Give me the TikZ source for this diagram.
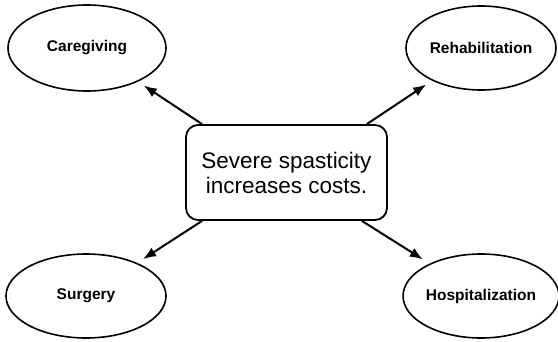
\documentclass[tikz,border=0pt]{standalone}
\usepackage{fontspec}
\setmainfont{Liberation Sans}
\usetikzlibrary{shapes.geometric,arrows.meta}
\begin{document}
\begin{tikzpicture}[x=1pt,y=1pt,
  oval/.style={draw, ellipse, line width=1.6pt, inner sep=0pt, font=\fontsize{15.5}{18}\selectfont\bfseries},
  mainbox/.style={draw, rounded corners=12pt, line width=1.8pt, minimum width=201pt, minimum height=95pt, align=center, font=\fontsize{22.5}{25}\selectfont},
  arr/.style={line width=2pt, -{Latex[length=13pt,width=10pt]}}]
\useasboundingbox (0,0) rectangle (558,341);
\node[mainbox] (box) at (286.5,168.5) {Severe spasticity\\increases costs.};
\node[oval, minimum width=158pt, minimum height=86pt] (care) at (87,293) {Caregiving};
\node[oval, minimum width=150pt, minimum height=84pt] (rehab) at (481,293) {Rehabilitation};
\node[oval, minimum width=160pt, minimum height=84pt] (surg) at (86,45) {Surgery};
\node[oval, minimum width=150pt, minimum height=84pt] (hosp) at (481,45) {Hospitalization};
\draw[arr, shorten >=7pt] ([xshift=17pt]box.north west) -- (care);
\draw[arr, shorten >=7pt] ([xshift=-21pt]box.north east) -- (rehab);
\draw[arr, shorten >=7pt] ([xshift=17pt]box.south west) -- (surg);
\draw[arr, shorten >=8pt] ([xshift=-26pt]box.south east) -- (hosp);
\end{tikzpicture}
\end{document}
